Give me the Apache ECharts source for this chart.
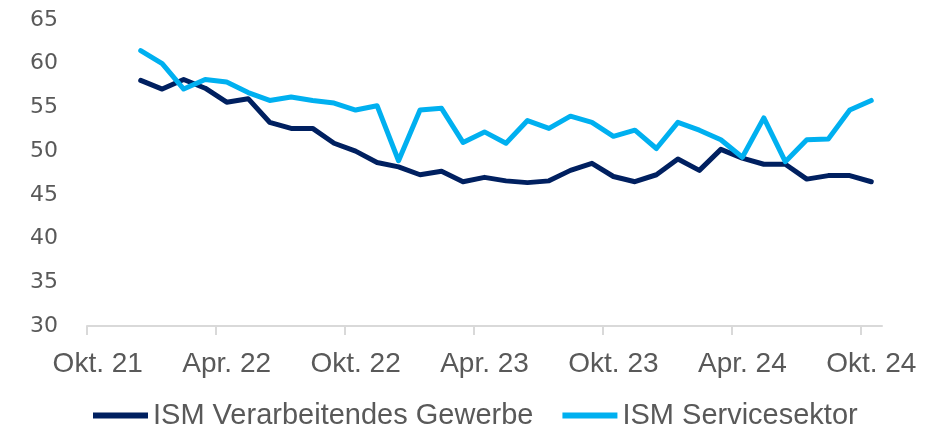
<!DOCTYPE html>
<html>
<head>
<meta charset="utf-8">
<title>ISM</title>
<script src="https://cdn.jsdelivr.net/npm/echarts@6/dist/echarts.min.js"></script>
<style>
  html, body { margin: 0; padding: 0; background: #ffffff; }
  #chart { width: 938px; height: 426px; }
</style>
</head>
<body>
<div id="chart"></div>
<script>
// Monatsachse Okt. 21 bis Okt. 24, Daten ab Dez. 21
const months = [
  'Okt. 21', 'Nov. 21', 'Dez. 21',
  'Jan. 22', 'Feb. 22', 'Mär. 22', 'Apr. 22', 'Mai 22', 'Jun. 22', 'Jul. 22', 'Aug. 22', 'Sep. 22', 'Okt. 22', 'Nov. 22', 'Dez. 22',
  'Jan. 23', 'Feb. 23', 'Mär. 23', 'Apr. 23', 'Mai 23', 'Jun. 23', 'Jul. 23', 'Aug. 23', 'Sep. 23', 'Okt. 23', 'Nov. 23', 'Dez. 23',
  'Jan. 24', 'Feb. 24', 'Mär. 24', 'Apr. 24', 'Mai 24', 'Jun. 24', 'Jul. 24', 'Aug. 24', 'Sep. 24', 'Okt. 24'
]
const manufacturing = [
  null, null,
  58.1, 57.1, 58.2, 57.2, 55.6, 56.0, 53.3, 52.6, 52.6, 50.9, 50.0, 48.7, 48.2,
  47.3, 47.7, 46.5, 47.0, 46.6, 46.4, 46.6, 47.8, 48.6, 47.1, 46.5, 47.3,
  49.1, 47.8, 50.2, 49.2, 48.5, 48.5, 46.8, 47.2, 47.2, 46.5
]
const services = [
  null, null,
  61.5, 60.0, 57.1, 58.2, 57.9, 56.7, 55.8, 56.2, 55.8, 55.5, 54.7, 55.2, 48.9,
  54.7, 54.9, 51.0, 52.2, 50.9, 53.5, 52.6, 54.0, 53.3, 51.7, 52.4, 50.3,
  53.3, 52.4, 51.3, 49.3, 53.8, 48.8, 51.3, 51.4, 54.7, 55.8
]
const seriesNames = ['ISM Verarbeitendes Gewerbe', 'ISM Servicesektor']

const myChart = echarts.init(document.getElementById('chart'))
const textColor = '#595959'
const font = 'Liberation Sans, Arial, sans-serif'

let option = {
  backgroundColor: '#ffffff',
  animation: false,
  textStyle: { fontFamily: font },
  grid: { left: 87, right: 56, top: 20, bottom: 100, containLabel: false },
  legend: {
    data: seriesNames,
    left: 88,
    top: 396,
    icon: 'rect',
    itemWidth: 55,
    itemHeight: 6,
    itemGap: 29,
    textStyle: { color: textColor, fontSize: 29, fontFamily: font }
  },
  xAxis: [
    {
      type: 'category',
      data: months,
      boundaryGap: true,
      axisLine: { lineStyle: { color: '#d9d9d9', width: 2 } },
      axisTick: { show: false },
      axisLabel: { interval: 5, color: textColor, fontSize: 28, margin: 24, fontFamily: font },
      splitLine: { show: false }
    },
    {
      // nur für die Teilstriche an den Monatsgrenzen
      type: 'category',
      data: months.concat(['']),
      boundaryGap: false,
      position: 'bottom',
      axisLine: { show: false },
      axisTick: { show: true, interval: 5, length: 9, lineStyle: { color: '#d9d9d9', width: 2 } },
      axisLabel: { show: false },
      splitLine: { show: false }
    }
  ],
  yAxis: {
    type: 'value',
    min: 30,
    max: 65,
    interval: 5,
    axisLine: { show: false },
    axisTick: { show: false },
    splitLine: { show: false },
    axisLabel: { color: textColor, fontSize: 22, margin: 29, fontFamily: 'DejaVu Sans, sans-serif' }
  },
  series: [
    {
      name: seriesNames[0],
      type: 'line',
      data: manufacturing,
      symbol: 'none',
      color: '#002060',
      lineStyle: { width: 5, cap: 'round', join: 'round' }
    },
    {
      name: seriesNames[1],
      type: 'line',
      data: services,
      symbol: 'none',
      color: '#00b0f0',
      lineStyle: { width: 5, cap: 'round', join: 'round' }
    }
  ]
}

myChart.setOption(option)
</script>
</body>
</html>
